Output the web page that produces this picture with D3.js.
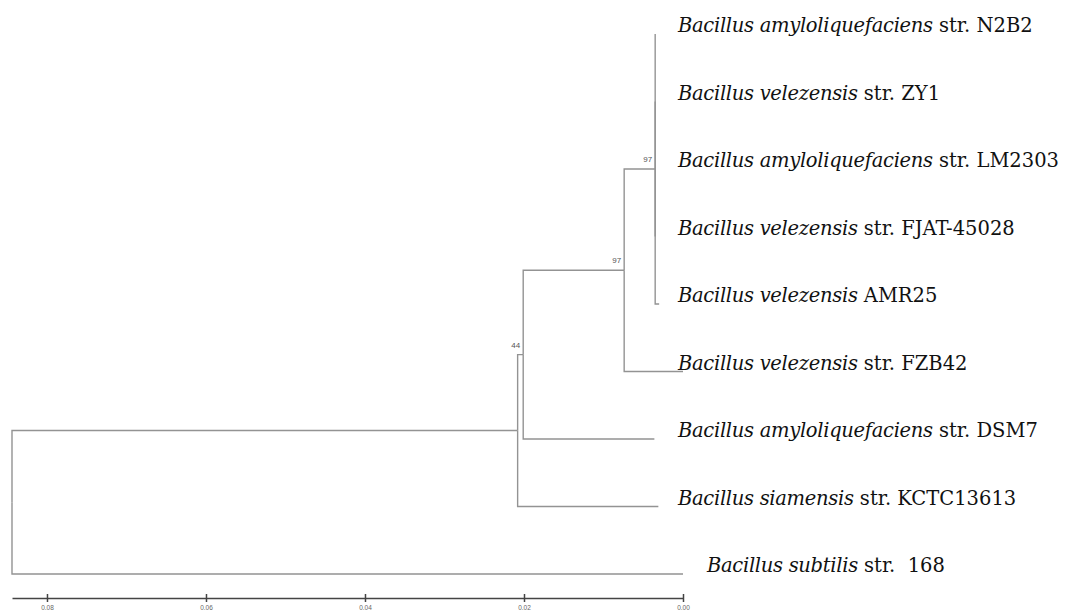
<!DOCTYPE html>
<html>
<head>
<meta charset="utf-8">
<script src="https://cdn.jsdelivr.net/npm/d3@7"></script>
<style>
  body { margin: 0; background: #fff; }
  svg { display: block; }
</style>
</head>
<body>
<div id="tree"></div>
<script>
// Tree structure: node ids, parent ids and branch lengths (substitutions/site)
const nodeIds = ['root', 'A', 'B', 'C', 'D',
  'N2B2', 'ZY1', 'LM2303', 'FJAT45028', 'AMR25', 'FZB42', 'DSM7', 'KCTC13613', 'str168'];
const parentIds = [null, 'root', 'A', 'B', 'C',
  'D', 'D', 'D', 'D', 'D', 'C', 'B', 'A', 'root'];
const branchLengths = [0, 0.0636, 0.0007, 0.0127, 0.0039,
  0, 0, 0, 0, 0.0005, 0.0074, 0.0165, 0.0177, 0.0844];

// Bootstrap support on internal nodes
const bootstrapNodes = ['B', 'C', 'D'];
const bootstrapValues = [44, 97, 97];

// Tip labels, top to bottom
const tipOrder = ['N2B2', 'ZY1', 'LM2303', 'FJAT45028', 'AMR25', 'FZB42', 'DSM7', 'KCTC13613', 'str168'];
const tipGenus = ['Bacillus', 'Bacillus', 'Bacillus', 'Bacillus', 'Bacillus', 'Bacillus', 'Bacillus', 'Bacillus', 'Bacillus'];
const tipSpecies = ['amyloliquefaciens', 'velezensis', 'amyloliquefaciens', 'velezensis', 'velezensis',
  'velezensis', 'amyloliquefaciens', 'siamensis', 'subtilis'];
const tipStrain = ['str. N2B2', 'str. ZY1', 'str. LM2303', 'str. FJAT-45028', 'AMR25',
  'str. FZB42', 'str. DSM7', 'str. KCTC13613', 'str.\u00a0 168'];

// Scale bar ticks
const axisTicks = [0.08, 0.06, 0.04, 0.02, 0.00];

const width = 1079;
const height = 612;

const svg = d3.select('#tree').append('svg')
  .attr('width', width)
  .attr('height', height);

// Build hierarchy
const table = nodeIds.map((id, i) => ({ id, parent: parentIds[i], len: branchLengths[i] }));
const root = d3.stratify().id(d => d.id).parentId(d => d.parent)(table);
root.each(d => { d.dist = d.parent ? d.parent.dist + d.data.len : 0; });
const treeDepth = d3.max(root.leaves(), d => d.dist);

// Horizontal: distance back from the tips; vertical: tip order
const x = d3.scaleLinear().domain([treeDepth, 0]).range([12, 683]);
const y = d3.scalePoint().domain(tipOrder).range([34, 574]);

root.eachAfter(d => {
  d.px = x(treeDepth - d.dist);
  if (!d.children) {
    d.py = y(d.id);
  } else {
    const ys = d.children.map(c => c.py);
    d.py = (d3.min(ys) + d3.max(ys)) / 2;
  }
});

// Branches (elbow)
const lineColor = '#939393';
svg.append('g')
  .selectAll('path')
  .data(root.links())
  .join('path')
  .attr('fill', 'none')
  .attr('stroke', lineColor)
  .attr('stroke-width', 1.4)
  .attr('d', l => `M${l.source.px},${l.source.py}V${l.target.py}H${l.target.px}`);

// Bootstrap values
svg.append('g')
  .selectAll('text')
  .data(bootstrapNodes)
  .join('text')
  .attr('x', id => root.find(n => n.id === id).px - 3)
  .attr('y', id => root.find(n => n.id === id).py - 7)
  .attr('text-anchor', 'end')
  .attr('font-family', 'Arial, "Liberation Sans", sans-serif')
  .attr('font-size', 8)
  .attr('fill', '#555')
  .text((id, i) => bootstrapValues[i]);

// Tip labels
const labels = svg.append('g')
  .selectAll('text')
  .data(tipOrder)
  .join('text')
  .attr('x', (id, i) => i === tipOrder.length - 1 ? 707 : 678)
  .attr('y', id => y(id) - 2)
  .attr('font-family', '"DejaVu Serif", "Liberation Serif", serif')
  .attr('font-size', 19.5)
  .attr('fill', '#111');

labels.append('tspan')
  .attr('font-style', 'italic')
  .attr('letter-spacing', -0.3)
  .text((id, i) => tipGenus[i] + ' ' + tipSpecies[i]);
labels.append('tspan')
  .text((id, i) => ' ' + tipStrain[i]);

// Scale bar
const axis = svg.append('g')
  .attr('transform', 'translate(0,598)')
  .call(d3.axisBottom(x)
    .tickValues(axisTicks)
    .tickFormat(d3.format('.2f'))
    .tickSizeInner(4)
    .tickSizeOuter(0)
    .tickPadding(3));

axis.select('.domain').attr('stroke', '#444').attr('stroke-width', 1.5);
axis.selectAll('.tick line').attr('y1', -4).attr('stroke', '#444').attr('stroke-width', 1.5);
axis.selectAll('.tick text')
  .attr('font-family', 'Arial, "Liberation Sans", sans-serif')
  .attr('font-size', 6.5)
  .attr('fill', '#666');
</script>
</body>
</html>
